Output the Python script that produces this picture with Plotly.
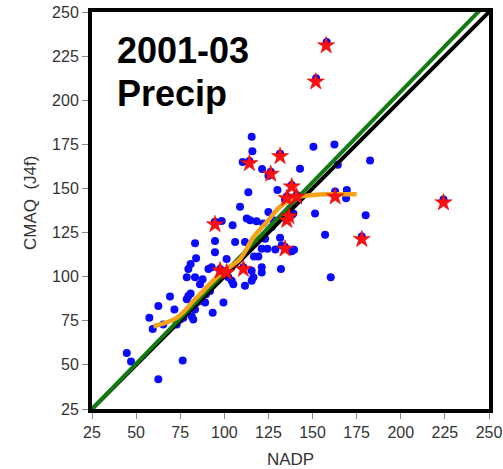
import plotly.graph_objects as go

# ---- data ----
nadp_sites = [44.7, 47.1, 62.6, 76.4, 57.5, 62.6, 59.4, 65.4, 69.2, 71.7,
              73.0, 74.9, 76.8, 78.7, 79.6, 80.9, 81.5, 82.4, 83.4, 84.3,
              86.2, 89.1, 89.6, 91.9, 93.4, 78.7, 79.6, 80.9, 83.4, 84.0,
              83.4, 86.2, 87.7, 91.0, 92.8, 94.7, 94.7, 94.7, 98.5, 99.5,
              101.3, 102.3, 104.2, 105.1, 104.7, 106.1, 108.9, 111.7, 111.7, 112.7,
              113.6, 114.6, 115.5, 115.5, 116.5, 116.8, 118.3, 119.3, 121.2, 121.2,
              121.2, 122.1, 123.1, 124.4, 125.0, 126.9, 127.8, 128.9, 130.1, 131.6,
              132.1, 132.5, 133.5, 134.4, 137.2, 138.2, 139.5, 139.1, 110.4, 115.5,
              115.9, 121.4, 125.0, 131.6, 142.9, 150.5, 151.4, 157.1, 160.3, 162.4,
              164.3, 162.8, 169.4, 169.0, 180.1, 182.6, 177.9, 224.2, 152.0, 158.0,
              94.7, 114.2, 131.6, 126.3, 138.2, 135.4, 141.0, 135.4, 134.4, 97.6,
              101.3, 110.8, 162.8]
cmaq_sites = [56.7, 51.9, 41.8, 52.5, 76.7, 83.4, 70.4, 72.9, 88.7, 81.4,
              72.9, 75.7, 76.7, 87.2, 89.1, 90.4, 77.6, 75.7, 81.4, 85.3,
              86.2, 85.3, 90.0, 91.9, 79.5, 99.6, 104.3, 107.2, 99.6, 110.4,
              119.0, 95.7, 98.6, 104.3, 105.3, 113.9, 120.2, 131.0, 131.6, 85.3,
              110.0, 99.6, 97.7, 95.7, 129.1, 119.6, 139.6, 119.6, 94.8, 132.9,
              147.8, 132.0, 103.4, 97.7, 99.6, 111.4, 131.4, 111.4, 115.8, 105.3,
              102.4, 130.1, 121.5, 115.8, 136.7, 128.2, 132.0, 115.4, 149.1, 122.1,
              104.3, 117.7, 133.9, 143.4, 138.7, 114.4, 115.2, 135.8, 165.0, 179.3,
              171.1, 161.0, 157.2, 169.7, 161.2, 173.6, 135.8, 123.8, 99.6, 174.9,
              163.4, 148.2, 149.1, 144.4, 134.8, 165.9, 122.8, 143.8, 212.5, 233.0,
              131.0, 165.5, 169.5, 159.5, 152.0, 145.4, 146.3, 133.0, 116.8, 104.4,
              103.4, 105.3, 146.3]

nadp_flagged = [94.7, 114.2, 131.6, 126.3, 138.2, 135.4, 141.0, 135.4, 136.6, 134.4,
                97.6, 101.3, 110.8, 162.8, 177.9, 224.2, 151.8, 157.7]
cmaq_flagged = [129.6, 164.2, 168.2, 158.2, 151.0, 144.4, 145.3, 132.0, 134.2, 115.8,
                103.4, 102.4, 104.3, 145.3, 121.2, 142.0, 210.5, 231.0]

smooth_x = [59.8, 73.0, 83.4, 96.6, 101.3, 108.9, 116.5, 124.0, 131.6, 139.1, 150.5, 161.8, 175.0]
smooth_y = [71.9, 76.7, 87.2, 100.5, 104.3, 110.0, 122.4, 131.0, 139.6, 144.4, 146.3, 146.7, 146.7]

fit_slope = 1.028
fit_intercept = -0.7

axis_min, axis_max = 25, 250
tick_vals = [25, 50, 75, 100, 125, 150, 175, 200, 225, 250]

FONT = "Liberation Sans, Arial, sans-serif"

fig = go.Figure()

fig.add_trace(go.Scatter(x=nadp_sites, y=cmaq_sites, mode="markers",
                         marker=dict(symbol="circle", size=8, color="#0a0aff"),
                         showlegend=False, hoverinfo="skip"))

fig.add_trace(go.Scatter(x=[axis_min, axis_max], y=[axis_min, axis_max], mode="lines",
                         line=dict(color="#000000", width=4),
                         showlegend=False, hoverinfo="skip"))

fit_x = [axis_min, axis_max]
fit_y = [fit_intercept + fit_slope * v for v in fit_x]
fig.add_trace(go.Scatter(x=fit_x, y=fit_y, mode="lines",
                         line=dict(color="#117a11", width=4),
                         showlegend=False, hoverinfo="skip"))

fig.add_trace(go.Scatter(x=smooth_x, y=smooth_y, mode="lines",
                         line=dict(color="#f5a218", width=4.5, shape="spline"),
                         showlegend=False, hoverinfo="skip"))

fig.add_trace(go.Scatter(x=nadp_flagged, y=cmaq_flagged, mode="markers",
                         marker=dict(symbol="star", size=13, color="#ff1010",
                                     line=dict(color="#d00000", width=0.5)),
                         showlegend=False, hoverinfo="skip"))

ann_font = dict(family=FONT, size=36, color="#000000")
fig.add_annotation(text="<b>2001-03</b>", xref="paper", yref="paper",
                   x=0.058, y=0.903, xanchor="left", yanchor="middle", showarrow=False,
                   font=ann_font)
fig.add_annotation(text="<b>Precip</b>", xref="paper", yref="paper",
                   x=0.058, y=0.794, xanchor="left", yanchor="middle", showarrow=False,
                   font=ann_font)

# y axis title placed as rotated text
fig.add_annotation(text="CMAQ  (J4f)", xref="paper", yref="paper",
                   x=-0.155, y=0.52, xanchor="center", yanchor="middle", showarrow=False,
                   textangle=-90, font=dict(family=FONT, size=17, color="#333333"))

axis_common = dict(range=[axis_min, axis_max], tickvals=tick_vals, automargin=False,
                   showgrid=False, zeroline=False, ticklabeloverflow="allow",
                   showline=True, linecolor="#000000", linewidth=4, mirror=True,
                   ticks="outside", ticklen=6, tickwidth=1, tickcolor="#888888",
                   tickfont=dict(family=FONT, size=16, color="#333333"),
                   title_font=dict(family=FONT, size=17, color="#333333"))

fig.update_xaxes(**axis_common, title_text="NADP")
fig.update_yaxes(**axis_common)

fig.update_layout(width=503, height=469, template="none",
                  margin=dict(l=92, r=14, t=12, b=60),
                  paper_bgcolor="#ffffff", plot_bgcolor="#ffffff")

fig.write_html("out.html", config={"displayModeBar": False},
               post_script="document.body.style.margin='0';document.body.style.overflow='hidden';")
